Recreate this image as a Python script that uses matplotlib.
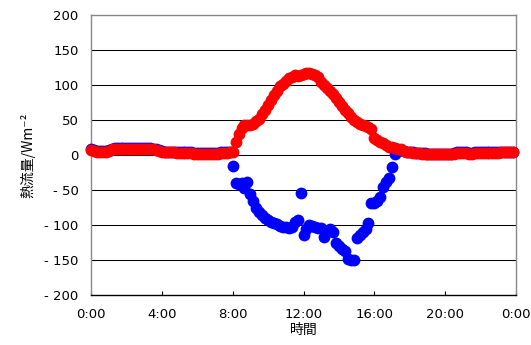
import matplotlib
matplotlib.use("Agg")
import matplotlib.pyplot as plt
import numpy as np

plt.rcParams['font.family'] = ['DejaVu Sans', 'Noto Sans CJK JP']

# 10-minute readings over one day (hours from midnight)
hours = np.arange(144) / 6.0

# red series
heat_red = [
    7, 6, 5, 5, 5, 5,
    6, 8, 9, 9, 9, 9,
    9, 9, 9, 9, 9, 9,
    9, 9, 9, 8, 7, 6,
    5, 4, 4, 4, 4, 3,
    3, 3, 3, 3, 3, 2,
    2, 2, 2, 2, 2, 2,
    2, 2, 3, 3, 3, 4,
    4, 19, 30, 38, 43, 43,
    43, 44, 48, 52, 58, 64,
    72, 79, 86, 92, 98, 102,
    106, 110, 112, 114, 113, 115,
    116, 117, 117, 116, 115, 112,
    104, 100, 96, 91, 87, 82,
    76, 70, 65, 60, 55, 50,
    47, 45, 43, 42, 40, 37,
    24, 22, 19, 17, 15, 12,
    11, 10, 9, 8, 6, 5,
    4, 3, 3, 3, 2, 2,
    2, 1, 1, 1, 1, 1,
    1, 1, 1, 2, 3, 3,
    3, 3, 2, 2, 3, 3,
    3, 3, 3, 3, 3, 3,
    3, 4, 4, 4, 4, 4,
]

# blue series
heat_blue = [
    8, 7, 6, 6, 6, 6,
    7, 9, 10, 10, 10, 10,
    10, 10, 10, 10, 10, 10,
    10, 10, 10, 9, 8, 7,
    6, 5, 5, 5, 5, 4,
    4, 4, 4, 4, 4, 3,
    3, 3, 3, 3, 3, 3,
    3, 3, 4, 4, 4, 5,
    -16, -40, -42, -40, -47, -38,
    -55, -66, -76, -82, -86, -90,
    -93, -95, -97, -99, -102, -103,
    -103, -104, -103, -96, -93, -54,
    -114, -106, -100, -101, -103, -104,
    -104, -117, -108, -105, -110, -126,
    -130, -134, -137, -148, -150, -150,
    -119, -114, -110, -105, -97, -69,
    -68, -66, -60, -45, -38, -33,
    -17, 1, 7, 7, 6, 5,
    4, 4, 3, 3, 3, 3,
    2, 2, 2, 2, 2, 2,
    2, 2, 2, 3, 4, 4,
    4, 4, 3, 3, 4, 4,
    4, 4, 4, 4, 4, 4,
    4, 5, 5, 5, 5, 5,
]

x_ticks = [0, 4, 8, 12, 16, 20, 24]
x_labels = ['0:00', '4:00', '8:00', '12:00', '16:00', '20:00', '0:00']
y_ticks = [-200, -150, -100, -50, 0, 50, 100, 150, 200]
y_labels = ['- 200', '- 150', '- 100', '- 50', '0', '50', '100', '150', '200']

fig = plt.figure(figsize=(5.31, 3.45), dpi=100)
ax = fig.add_axes([0.1714, 0.1449, 0.8004, 0.8116])

for y in y_ticks[1:-1]:
    ax.axhline(y, color='black', lw=0.75, zorder=1)

ax.plot(hours, heat_blue, 'o', color='#0000ff', ms=8.5, mew=0, clip_on=False, zorder=3)
ax.plot(hours, heat_red, 'o', color='#ff0000', ms=8.5, mew=0, clip_on=False, zorder=4)

ax.set_xlim(0, 24)
ax.set_ylim(-200, 200)
ax.set_xticks(x_ticks)
ax.set_xticklabels(x_labels, fontsize=9.5)
ax.set_yticks(y_ticks)
ax.set_yticklabels(y_labels, fontsize=9.5)
ax.tick_params(axis='x', direction='in', length=3, width=0.8, pad=9)
ax.tick_params(axis='y', length=0, pad=9)

for side in ['top', 'right', 'left']:
    ax.spines[side].set_color('#888888')
    ax.spines[side].set_linewidth(1.0)
ax.spines['bottom'].set_color('black')
ax.spines['bottom'].set_linewidth(1.0)

ax.set_xlabel('時間', fontsize=10, family=['Noto Sans CJK JP', 'DejaVu Sans'], labelpad=2)
ax.set_ylabel('熱流量/Wm⁻²', fontsize=10, family=['Noto Sans CJK JP', 'DejaVu Sans'], labelpad=6)

fig.savefig('out.png', dpi=100)
